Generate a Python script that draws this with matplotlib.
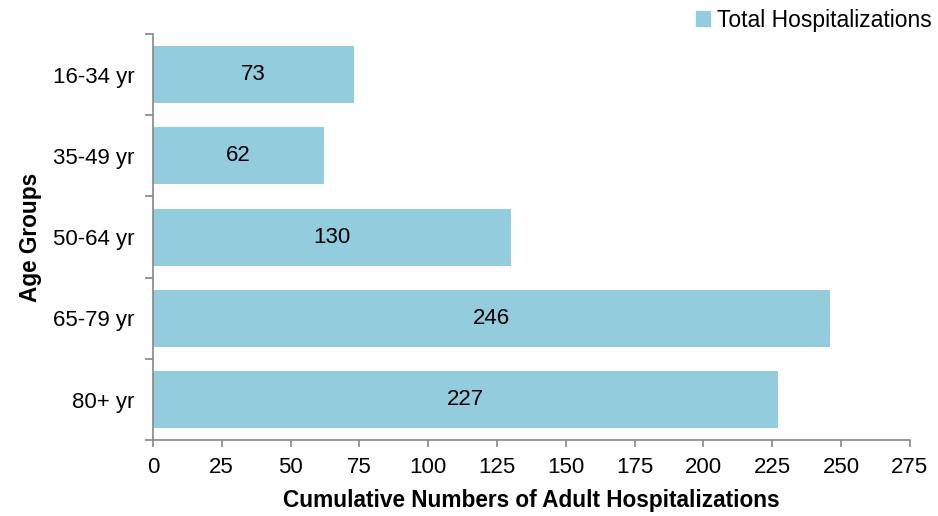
import numpy as np
import matplotlib.pyplot as plt
from matplotlib.patches import Patch

plt.rcParams['font.family'] = ['Liberation Sans', 'DejaVu Sans']

age_groups = ['16-34 yr', '35-49 yr', '50-64 yr', '65-79 yr', '80+ yr']
hospitalizations = [73, 62, 130, 246, 227]
x_ticks = [0, 25, 50, 75, 100, 125, 150, 175, 200, 225, 250, 275]

bar_color = '#93CDDD'
axis_gray = '#868686'

fig = plt.figure(figsize=(9.38, 5.16), dpi=100)
ax = fig.add_axes([0.163, 0.147, 0.807, 0.787])

y = np.arange(len(age_groups))
ax.barh(y, hospitalizations, height=0.7, color=bar_color)
for yi, v in zip(y, hospitalizations):
    ax.text(v / 2, yi, str(v), ha='center', va='center', fontsize=16, color='black')

ax.set_xlim(0, 275)
ax.set_ylim(len(age_groups) - 0.5, -0.5)
ax.set_xticks(x_ticks)
ax.set_yticks(y)
ax.set_yticklabels(age_groups)
# category separators on the y axis
ax.set_yticks(np.arange(-0.5, len(age_groups)), minor=True)
ax.tick_params(axis='y', which='major', length=0, labelsize=16, pad=13)
ax.tick_params(axis='y', which='minor', length=6, width=1.2, color=axis_gray, direction='out')
ax.tick_params(axis='x', length=5, width=1.2, color=axis_gray, labelsize=16, pad=7)

for side in ['top', 'right']:
    ax.spines[side].set_visible(False)
for side in ['left', 'bottom']:
    ax.spines[side].set_color(axis_gray)
    ax.spines[side].set_linewidth(1.2)

ax.set_xlabel('Cumulative Numbers of Adult Hospitalizations', fontsize=16.3,
              fontweight='bold', labelpad=8)
ax.set_ylabel('Age Groups', fontsize=16.3, fontweight='bold', labelpad=8)

fig.legend(handles=[Patch(color=bar_color, label='Total Hospitalizations')],
           loc='center right', bbox_to_anchor=(0.993, 0.961), frameon=False,
           fontsize=16.5, handlelength=0.6, handleheight=0.6, handletextpad=0.3,
           borderaxespad=0, borderpad=0)

fig.savefig('out.png', dpi=100)
